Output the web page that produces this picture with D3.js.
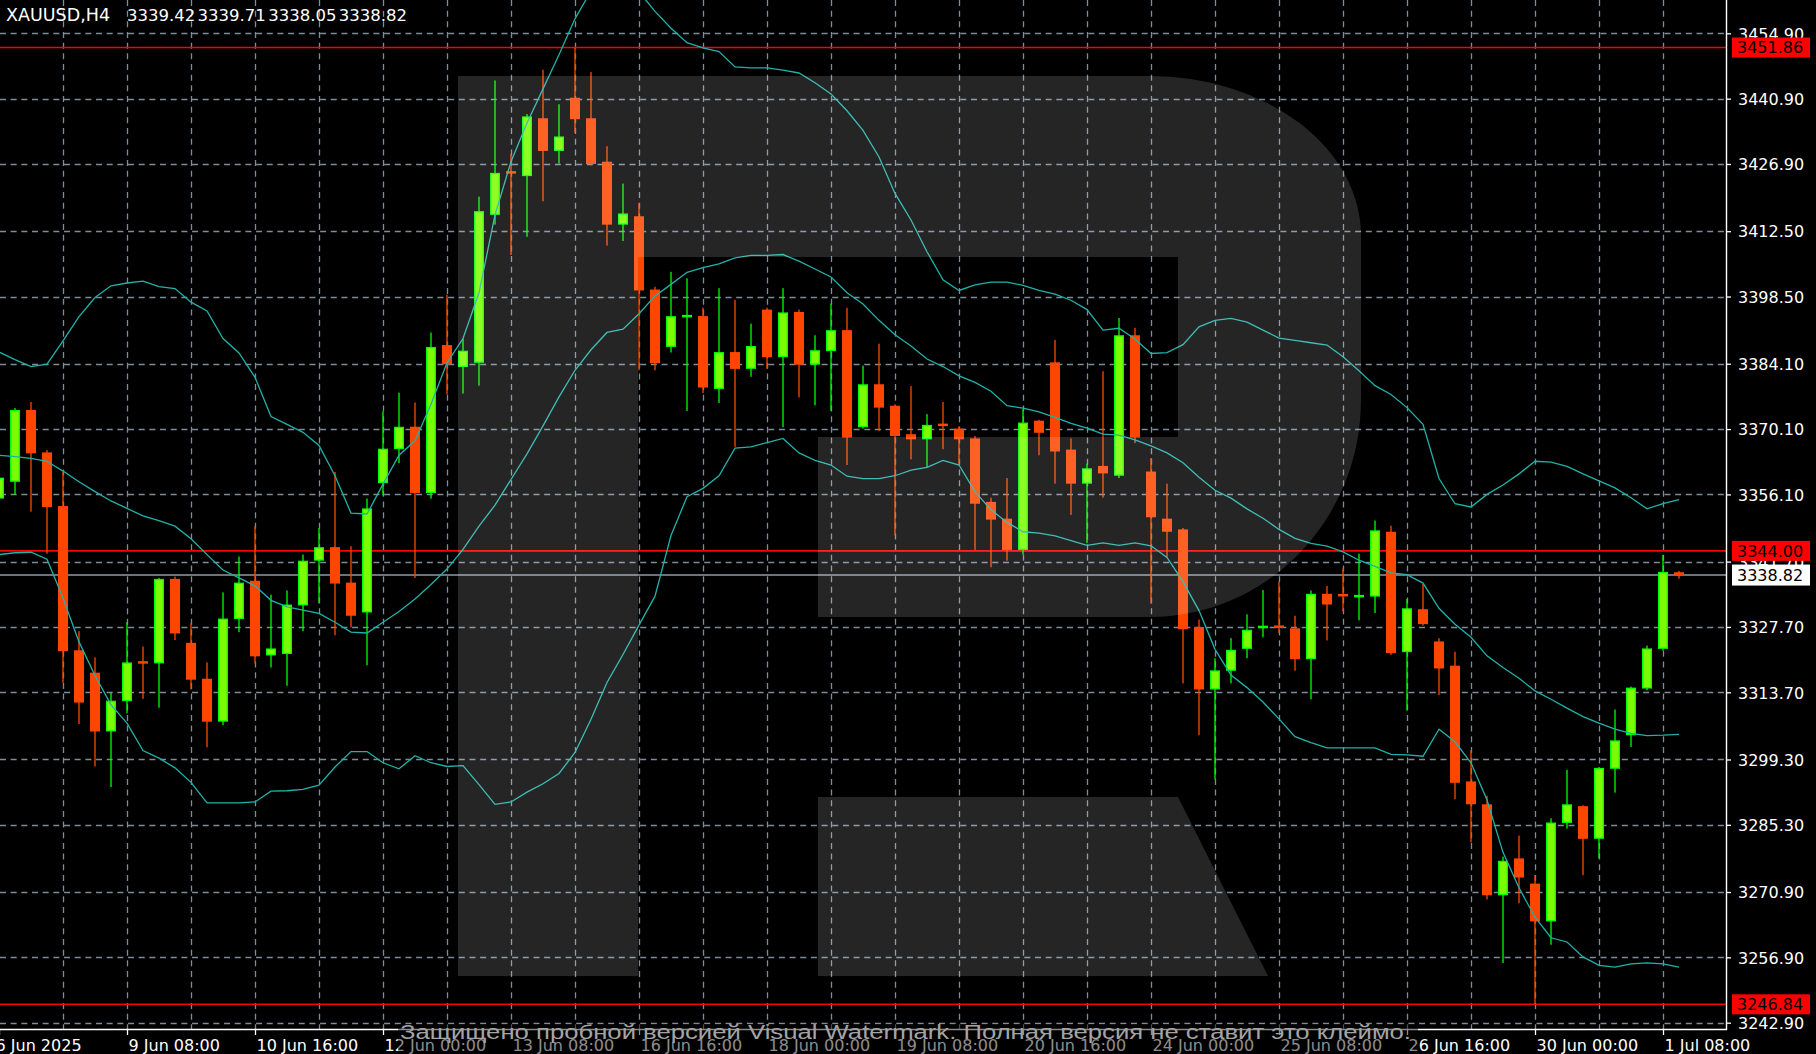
<!DOCTYPE html>
<html><head><meta charset="utf-8">
<script src="https://cdn.jsdelivr.net/npm/d3@7"></script>
<style>html,body{margin:0;padding:0;background:#000;overflow:hidden}</style>
</head><body>
<svg id="chart" width="1816" height="1054"></svg>
<script>
// ---- data (XAUUSD H4, bars 0..105) ----
const opens = [3355.2,3358.8,3374.2,3365.1,3353.6,3322.7,3317.9,3305.3,3311.8,3320.2,
3319.9,3338.0,3324.3,3316.6,3307.4,3329.4,3337.6,3321.6,3321.9,3332.3,
3341.9,3344.8,3337.2,3330.8,3358.5,3365.8,3370.6,3356.4,3388.1,3383.4,
3384.3,3416.0,3425.2,3424.3,3436.7,3429.7,3441.1,3436.7,3427.4,3413.9,
3415.7,3400.0,3387.7,3394.2,3394.3,3378.7,3386.6,3383.0,3395.7,3385.5,
3395.2,3383.9,3386.8,3391.3,3370.5,3379.7,3375.1,3369.0,3367.9,3371.1,
3370.2,3368.1,3354.5,3350.9,3344.2,3371.9,3384.4,3365.7,3358.4,3362.2,
3360.1,3390.2,3361.0,3350.9,3348.6,3327.7,3314.3,3318.3,3323.0,3327.6,
3327.9,3327.4,3320.8,3334.8,3334.6,3334.2,3334.2,3348.1,3322.3,3331.5,
3324.6,3319.4,3294.6,3289.7,3270.2,3278.1,3272.7,3264.6,3285.7,3289.3,
3282.3,3297.3,3304.5,3314.5,3323.0,3339.42];
const highs = [3361.0,3374.6,3375.9,3365.6,3360.9,3326.8,3321.2,3313.6,3328.7,3323.5,
3338.2,3338.5,3328.5,3320.1,3335.1,3342.8,3349.3,3334.6,3335.5,3343.2,
3348.9,3360.9,3345.0,3355.2,3373.9,3377.9,3375.8,3390.8,3398.9,3389.5,
3419.9,3444.8,3429.0,3437.6,3447.1,3439.7,3451.86,3446.6,3430.7,3422.7,
3418.5,3400.6,3403.8,3402.4,3396.1,3400.3,3397.8,3392.7,3396.1,3400.3,
3395.7,3390.2,3397.0,3396.1,3383.7,3388.4,3375.4,3379.3,3373.3,3375.9,
3370.7,3368.6,3355.4,3359.6,3374.3,3372.1,3389.2,3368.1,3362.7,3382.5,
3393.9,3391.8,3363.9,3358.4,3348.9,3329.3,3321.0,3325.3,3330.4,3335.6,
3337.4,3330.1,3335.5,3336.5,3340.2,3343.4,3350.5,3349.4,3333.7,3336.9,
3325.3,3322.4,3301.3,3291.5,3278.5,3283.0,3274.5,3286.7,3297.1,3289.5,
3297.7,3310.0,3314.9,3323.7,3343.1,3339.71];
const lows = [3353.0,3356.0,3352.4,3343.4,3315.7,3306.9,3297.8,3293.4,3309.2,3312.3,
3310.4,3324.9,3314.3,3301.9,3306.7,3326.6,3319.9,3319.0,3315.1,3326.8,
3332.8,3325.9,3327.6,3319.5,3355.9,3362.8,3338.2,3355.2,3377.5,3377.7,
3379.4,3413.9,3407.4,3411.3,3418.9,3427.0,3433.6,3426.6,3409.4,3410.4,
3382.7,3382.7,3386.5,3374.0,3377.8,3375.7,3366.3,3381.3,3383.0,3370.5,
3376.9,3375.2,3374.0,3362.4,3370.2,3369.7,3347.3,3363.6,3361.9,3365.8,
3362.4,3344.2,3340.5,3341.9,3343.2,3364.5,3358.4,3351.7,3345.7,3355.4,
3359.6,3367.1,3332.7,3342.6,3315.6,3304.5,3295.0,3315.6,3321.0,3325.5,
3326.4,3318.3,3312.2,3324.8,3331.0,3329.1,3330.7,3321.7,3309.8,3328.0,
3313.1,3290.8,3281.5,3269.3,3255.7,3268.5,3246.84,3259.6,3284.5,3274.5,
3278.1,3292.2,3302.0,3314.1,3322.6,3338.05];
const closes = [3359.7,3374.2,3364.9,3353.4,3322.5,3311.5,3305.3,3311.9,3320.1,3320.0,
3338.0,3326.3,3316.4,3307.4,3329.5,3337.2,3321.4,3323.1,3332.5,3341.9,
3344.8,3337.0,3330.1,3353.1,3365.9,3370.6,3356.4,3387.7,3384.0,3386.9,
3416.8,3425.0,3425.0,3437.1,3429.7,3432.8,3436.5,3426.9,3413.9,3416.3,
3399.8,3384.2,3394.3,3394.4,3379.0,3386.6,3383.0,3387.9,3385.5,3395.1,
3383.9,3387.0,3391.3,3368.3,3379.7,3374.7,3368.6,3367.9,3371.0,3370.9,
3367.9,3354.1,3350.7,3344.2,3371.5,3369.3,3365.3,3358.4,3361.7,3360.6,
3390.2,3368.3,3351.2,3348.1,3327.2,3314.3,3318.4,3322.8,3327.1,3327.8,
3327.6,3320.8,3334.8,3332.5,3334.4,3334.4,3348.4,3322.1,3331.7,3328.3,
3318.8,3294.3,3289.7,3270.2,3277.6,3274.0,3264.6,3285.8,3289.7,3282.3,
3297.5,3303.4,3314.7,3323.1,3339.5,3338.82];

// Bollinger bands
const bbUpper = [3386.6,3385.0,3383.5,3384.0,3389.0,3394.2,3398.3,3400.8,3401.4,3401.8,
3400.6,3400.2,3397.3,3395.4,3389.5,3386.4,3381.2,3372.8,3371.1,3369.4,
3366.6,3360.1,3352.1,3351.9,3358.3,3364.5,3367.6,3375.4,3384.3,3389.5,
3399.3,3416.0,3427.4,3435.7,3443.0,3450.3,3458.0,3464.0,3467.5,3467.0,
3463.8,3459.6,3456.0,3452.9,3451.8,3451.0,3447.7,3447.5,3447.5,3447.0,
3446.4,3444.3,3441.9,3438.3,3434.1,3428.4,3420.6,3414.9,3408.1,3402.1,
3399.8,3401.0,3401.6,3401.6,3400.9,3399.8,3399.0,3397.7,3395.7,3391.3,
3391.7,3389.4,3386.3,3386.5,3388.2,3392.0,3393.4,3393.8,3393.0,3391.3,
3389.6,3389.1,3388.6,3388.1,3385.6,3382.6,3379.4,3377.5,3374.7,3371.1,
3359.5,3354.1,3353.4,3356.1,3358.1,3360.5,3363.2,3363.0,3362.1,3360.5,
3359.0,3357.5,3355.4,3353.0,3354.1,3355.0];
const bbMiddle = [3364.5,3364.2,3363.8,3363.2,3361.1,3358.8,3356.7,3354.7,3353.1,3351.5,
3350.5,3349.3,3346.6,3343.2,3339.9,3338.2,3336.5,3333.4,3332.0,3331.3,
3330.6,3328.7,3326.6,3326.4,3328.7,3331.0,3333.7,3336.8,3340.1,3344.3,
3349.3,3353.8,3359.3,3364.8,3370.8,3377.0,3382.7,3387.1,3390.8,3391.5,
3394.8,3398.6,3401.1,3403.7,3404.7,3405.5,3406.8,3407.3,3407.3,3407.5,
3406.1,3404.4,3402.7,3399.3,3396.9,3393.4,3390.3,3387.9,3385.1,3383.5,
3381.5,3380.1,3378.2,3375.1,3374.6,3373.8,3372.6,3371.3,3370.3,3369.0,
3368.8,3367.8,3366.5,3365.0,3362.9,3359.8,3357.0,3355.3,3353.0,3351.0,
3348.6,3346.7,3345.6,3345.0,3343.8,3342.0,3340.7,3339.3,3338.9,3337.1,
3331.7,3328.3,3325.5,3321.5,3319.0,3316.7,3314.0,3312.2,3310.3,3308.5,
3307.1,3305.8,3304.9,3304.4,3304.5,3304.7];
const bbLower = [3343.2,3343.6,3343.7,3342.2,3333.9,3324.5,3317.3,3311.0,3307.1,3301.2,
3299.6,3297.5,3294.4,3290.0,3290.0,3290.0,3290.2,3292.5,3292.6,3292.9,
3293.8,3297.7,3301.0,3301.0,3298.6,3297.3,3300.1,3298.6,3297.8,3298.0,
3293.9,3289.7,3290.2,3292.3,3294.1,3296.3,3300.8,3307.9,3315.8,3321.8,
3328.1,3334.3,3347.3,3355.6,3357.4,3360.1,3366.0,3366.3,3367.2,3368.1,
3365.0,3363.4,3362.4,3360.0,3359.5,3359.5,3360.1,3361.3,3361.9,3363.4,
3362.4,3356.7,3352.8,3350.1,3348.1,3347.8,3347.2,3346.2,3345.2,3345.7,
3345.2,3345.7,3345.1,3342.6,3337.4,3331.2,3322.9,3317.4,3314.7,3311.6,
3308.0,3304.2,3302.9,3301.8,3301.8,3301.8,3301.8,3300.4,3300.3,3300.0,
3305.8,3303.1,3298.6,3290.6,3279.4,3271.8,3265.5,3261.1,3260.2,3257.0,
3255.2,3254.8,3255.5,3255.7,3255.5,3254.8];

const priceTicks = [3454.90,3440.90,3426.90,3412.50,3398.50,3384.10,3370.10,3356.10,
3341.70,3327.70,3313.70,3299.30,3285.30,3270.90,3256.90,3242.90];
const timeLabels = ["6 Jun 2025","9 Jun 08:00","10 Jun 16:00","12 Jun 00:00","13 Jun 08:00",
"16 Jun 16:00","18 Jun 00:00","19 Jun 08:00","20 Jun 16:00","24 Jun 00:00","25 Jun 08:00",
"26 Jun 16:00","30 Jun 00:00","1 Jul 08:00"];
const timeLabelBars = [0,8,16,24,32,40,48,56,64,72,80,88,96,104];
const levelLines = [3451.86, 3344.00, 3246.84];
const bidPrice = 3338.82;
const headerParts = ["XAUUSD,H4","3339.42","3339.71","3338.05","3338.82"];
const watermarkText = "Защищено пробной версией Visual Watermark. Полная версия не ставит это клеймо.";

// ---- layout ----
const W = 1816, H = 1054;
const plotR = 1726, plotB = 1029;
const FONT = "DejaVu Sans";
const bars = d3.range(opens.length);

const x = d3.scaleLinear().domain([0, 105]).range([-1, 1679]);
const y = d3.scaleLinear().domain([3241.55, 3462.04]).range([plotB, 0]);

const svg = d3.select("#chart");
svg.append("rect").attr("width", W).attr("height", H).attr("fill", "#000");

svg.append("defs").append("clipPath").attr("id", "plot")
  .append("rect").attr("x", 0).attr("y", 0).attr("width", plotR).attr("height", plotB);

const plot = svg.append("g").attr("clip-path", "url(#plot)");

// grid
const gridColor = "#7d8c9c";
const gridBars = d3.range(4, 106, 4);
plot.append("g").selectAll("line").data(priceTicks).join("line")
  .attr("x1", 0).attr("x2", plotR)
  .attr("y1", d => Math.round(y(d)) + 0.5).attr("y2", d => Math.round(y(d)) + 0.5)
  .attr("stroke", gridColor).attr("stroke-width", 1.3).attr("stroke-dasharray", "6 4.67");
plot.append("g").selectAll("line").data(gridBars).join("line")
  .attr("x1", d => Math.round(x(d)) + 0.5).attr("x2", d => Math.round(x(d)) + 0.5)
  .attr("y1", 0).attr("y2", plotB)
  .attr("stroke", gridColor).attr("stroke-width", 1.3).attr("stroke-dasharray", "6 4.67");

// level lines
plot.append("g").selectAll("line").data(levelLines).join("line")
  .attr("x1", 0).attr("x2", plotR)
  .attr("y1", d => y(d)).attr("y2", d => y(d))
  .attr("stroke", "#ff0000").attr("stroke-width", 1.6);
// bid line
plot.append("line").attr("x1", 0).attr("x2", plotR)
  .attr("y1", y(bidPrice)).attr("y2", y(bidPrice))
  .attr("stroke", "#8e9aa8").attr("stroke-width", 1.4);

// candles
const BULL_EDGE = "#00ff00", BULL_FILL = "#7cfc00", BEAR = "#ff4500";
const cg = plot.append("g");
bars.forEach(i => {
  const o = opens[i], c = closes[i], hi = highs[i], lo = lows[i];
  const bull = c >= o;
  const cx = x(i);
  const col = bull ? BULL_EDGE : BEAR;
  cg.append("rect").attr("x", cx - 0.65).attr("width", 1.3)
    .attr("y", y(hi)).attr("height", Math.max(1, y(lo) - y(hi))).attr("fill", col);
  let top = y(Math.max(o, c)), bot = y(Math.min(o, c));
  if (bot - top < 2.5) { const m = (top + bot) / 2; top = m - 1.25; bot = m + 1.25; }
  cg.append("rect").attr("x", cx - 5).attr("width", 10).attr("y", top).attr("height", bot - top)
    .attr("fill", col);
  if (bull && bot - top > 3) {
    cg.append("rect").attr("x", cx - 3.7).attr("width", 7.4).attr("y", top + 1.3)
      .attr("height", bot - top - 2.6).attr("fill", BULL_FILL);
  }
});

// bollinger bands
const line = d3.line().x((d, i) => x(i)).y(d => y(d));
[bbUpper, bbMiddle, bbLower].forEach(arr => {
  plot.append("path").datum(arr).attr("d", line)
    .attr("fill", "none").attr("stroke", "#20b2aa").attr("stroke-width", 1.3);
});

// "R" watermark overlay
const wm = plot.append("g").attr("fill", "#ffffff").attr("fill-opacity", 0.145);
wm.append("path").attr("fill-rule", "evenodd").attr("d",
  "M458,76 H1150 A211,160 0 0 1 1361,236 V400 A211,217 0 0 1 1150,617 H458 Z " +
  "M638,257 H1178 V437 H818 V617 H638 Z");
wm.append("path").attr("d", "M458,617 H638 V976 H458 Z");
wm.append("path").attr("d", "M818,797 H1178 L1268,976 H818 Z");

// frame lines
svg.append("line").attr("x1", plotR + 0.5).attr("x2", plotR + 0.5).attr("y1", 0).attr("y2", plotB + 1)
  .attr("stroke", "#fff").attr("stroke-width", 1.4);
svg.append("line").attr("x1", 0).attr("x2", plotR + 1).attr("y1", plotB + 0.5).attr("y2", plotB + 0.5)
  .attr("stroke", "#fff").attr("stroke-width", 1.4);

// price axis
const yAxis = d3.axisRight(y).tickValues(priceTicks).tickFormat(d3.format(".2f"))
  .tickSize(4).tickPadding(7);
const ya = svg.append("g").attr("transform", `translate(${plotR + 1},0)`).call(yAxis);
ya.select(".domain").remove();
ya.selectAll(".tick line").attr("stroke", "#fff").attr("stroke-width", 1.3);
ya.selectAll(".tick text").attr("fill", "#fff").attr("font-family", FONT).attr("font-size", 16)
  .attr("dy", "0.36em");

// time axis
const xAxis = d3.axisBottom(x).tickValues(timeLabelBars).tickFormat((d, i) => timeLabels[i])
  .tickSize(6).tickPadding(4);
const xa = svg.append("g").attr("transform", `translate(0,${plotB})`).call(xAxis);
xa.select(".domain").remove();
xa.selectAll(".tick line").attr("stroke", "#fff").attr("stroke-width", 1.3);
xa.selectAll(".tick text").attr("fill", "#fff").attr("font-family", FONT).attr("font-size", 16)
  .attr("text-anchor", "start").attr("x", (d, i) => i === 0 ? -4 : 1).attr("y", 10).attr("dy", "0.74em");

// level labels
const bidY = y(bidPrice);
const lab = svg.append("g");
levelLines.forEach(v => {
  let cy = y(v);
  if (Math.abs(cy - bidY) < 24) cy = bidY - 27;
  lab.append("rect").attr("x", 1732).attr("y", cy - 10).attr("width", 78).attr("height", 20).attr("fill", "#ff0000");
  lab.append("text").attr("x", 1737).attr("y", cy).attr("dy", "0.36em").text(v.toFixed(2))
    .attr("fill", "#000").attr("font-family", FONT).attr("font-size", 16);
});
lab.append("rect").attr("x", 1732).attr("y", bidY - 10.5).attr("width", 78).attr("height", 21).attr("fill", "#ffffff");
lab.append("text").attr("x", 1737).attr("y", bidY).attr("dy", "0.36em").text(bidPrice.toFixed(2))
  .attr("fill", "#000").attr("font-family", FONT).attr("font-size", 16);

// header
const headerX = [6, 127, 197.6, 268.2, 338.8];
svg.append("g").selectAll("text").data(headerParts).join("text")
  .attr("x", (d, i) => headerX[i]).attr("y", 20.5)
  .attr("fill", "#fff").attr("font-family", FONT).attr("font-size", (d, i) => i === 0 ? 17.5 : 16.5)
  .text(d => d);

// bottom trial watermark
svg.append("rect").attr("x", 398).attr("y", 1024).attr("width", 1020).attr("height", 30)
  .attr("fill", "#000").attr("fill-opacity", 0.45);
svg.append("text").attr("x", 400).attr("y", 1038.5).attr("textLength", 1011)
  .attr("lengthAdjust", "spacingAndGlyphs")
  .attr("fill", "#a4a4a4").attr("font-family", "Liberation Sans, Arial, sans-serif")
  .attr("font-size", 20).text(watermarkText);
</script>
</body></html>
